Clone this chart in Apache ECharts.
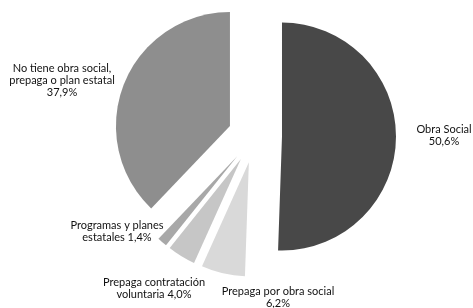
<!DOCTYPE html>
<html>
<head>
<meta charset="utf-8">
<script src="https://cdn.jsdelivr.net/npm/echarts@6/dist/echarts.min.js"></script>
<style>
  html, body { margin: 0; padding: 0; background: #fff; }
  #chart { width: 473px; height: 308px; }
</style>
</head>
<body>
<div id="chart"></div>
<script>
// categories and values (percent), clockwise from 12 o'clock
const categories = [
  'Obra Social',
  'Prepaga por obra social',
  'Prepaga contratación voluntaria',
  'Programas y planes estatales',
  'No tiene obra social, prepaga o plan estatal'
];
const values = [50.6, 6.2, 4.0, 1.4, 37.9];
const labelTexts = [
  'Obra Social\n50,6%',
  'Prepaga por obra social\n6,2%',
  'Prepaga contratación\nvoluntaria 4,0%',
  'Programas y planes\nestatales 1,4%',
  'No tiene obra social,\nprepaga o plan estatal\n37,9%'
];
const colors = ['#484848', '#d9d9d9', '#c6c6c6', '#a8a8a8', '#8e8e8e'];

// where each label block is centred (layout only)
const labelCenters = [[444, 135], [278, 297], [154, 288], [117, 231], [62, 80]];

var chartDom = document.getElementById('chart');
var myChart = echarts.init(chartDom, null, { renderer: 'canvas' });

const pieData = categories.map((name, i) => ({
  name: name,
  value: values[i],
  selected: true,
  itemStyle: { color: colors[i] }
}));

// same slices, invisible, only used to carry the labels
const labelData = categories.map((name, i) => ({
  name: name,
  value: values[i],
  label: { formatter: labelTexts[i] }
}));

var option = {
  animation: false,
  series: [
    {
      type: 'pie',
      center: [255, 136],
      radius: 114,
      startAngle: 90,
      clockwise: true,
      selectedMode: 'multiple',
      selectedOffset: 27,
      emphasis: { disabled: true },
      itemStyle: { borderWidth: 0 },
      label: { show: false },
      labelLine: { show: false },
      data: pieData
    },
    {
      type: 'pie',
      silent: true,
      center: [255, 136],
      radius: 114,
      startAngle: 90,
      clockwise: true,
      itemStyle: { color: 'rgba(0,0,0,0)', borderWidth: 0 },
      emphasis: { disabled: true },
      label: {
        show: true,
        position: 'outside',
        overflow: 'none',
        color: '#111',
        fontFamily: 'Lato',
        fontSize: 11,
        lineHeight: 12
      },
      labelLine: { show: false },
      labelLayout: function (params) {
        const c = labelCenters[params.dataIndex];
        return {
          x: c[0],
          y: c[1],
          align: 'center',
          verticalAlign: 'middle'
        };
      },
      data: labelData
    }
  ]
};
myChart.setOption(option);
</script>
</body>
</html>
